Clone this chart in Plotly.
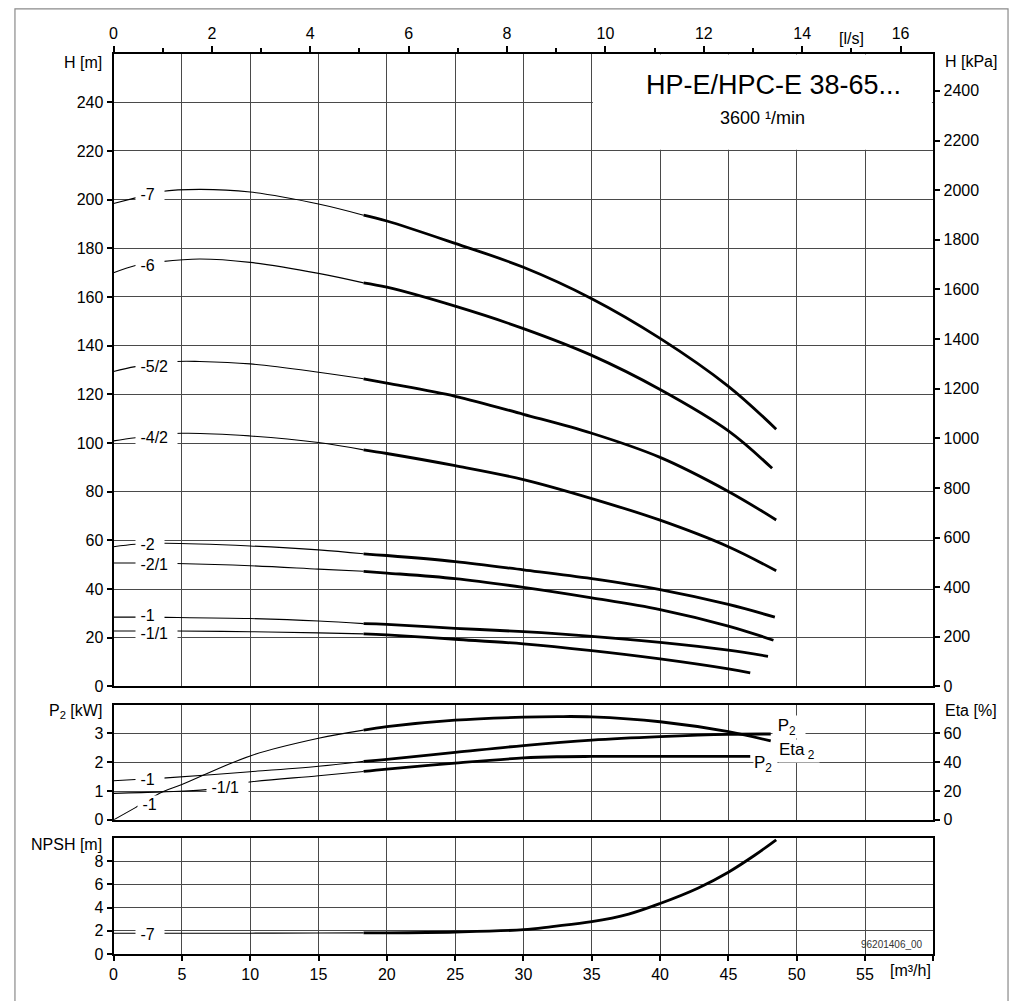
import plotly.graph_objects as go

W = 1014
FIG_H = 1001
FONT = "Liberation Sans, Arial, Helvetica, sans-serif"

# ---------------- data ----------------
# Head curves H [m] vs Q [m3/h]; thin part (outside working range) and thick part
head_names = ["-7", "-6", "-5/2", "-4/2", "-2", "-2/1", "-1", "-1/1"]
head_thin_q = [
    [0, 1.6, 3.5, 6.3, 10, 15, 18.3],
    [0, 1.6, 3.5, 6.3, 10, 15, 18.3],
    [0, 1.6, 4.6, 6.3, 10, 15, 18.3],
    [0, 1.6, 5, 10, 15, 18.3],
    [0, 1.6, 3.8, 10, 15, 18.3],
    [0, 1.6, 4.6, 10, 15, 18.3],
    [0, 1.6, 3.8, 10, 15, 18.3],
    [0, 1.6, 4.6, 10, 15, 18.3],
]
head_thin_h = [
    [198.4, 200.7, 203.3, 204.2, 203.1, 198.2, 193.6],
    [169.9, 172.9, 174.5, 175.6, 174.2, 169.7, 165.8],
    [129.4, 131.4, 133.5, 133.5, 132.5, 129.1, 126.4],
    [100.9, 102.2, 104.0, 102.9, 100.2, 97.2],
    [57.4, 58.4, 58.8, 57.7, 56.1, 54.5],
    [50.7, 50.7, 50.5, 49.6, 48.2, 47.3],
    [28.5, 28.5, 28.4, 27.9, 26.9, 25.8],
    [22.8, 22.8, 22.8, 22.5, 22.0, 21.6],
]
head_thick_q = [
    [18.3, 20, 25, 30, 35, 40, 45, 48.5],
    [18.3, 20, 25, 30, 35, 40, 45, 48.2],
    [18.3, 20, 25, 30, 35, 40, 45, 48.5],
    [18.3, 20, 25, 30, 35, 40, 45, 48.5],
    [18.3, 20, 25, 30, 35, 40, 45, 48.4],
    [18.3, 20, 25, 30, 35, 40, 45, 48.3],
    [18.3, 20, 25, 30, 35, 40, 45, 47.9],
    [18.3, 20, 25, 30, 35, 40, 45, 46.6],
]
head_thick_h = [
    [193.6, 191.2, 182.0, 172.2, 159.3, 143.0, 123.3, 105.7],
    [165.8, 164.0, 156.2, 147.0, 136.0, 122.0, 105.0, 89.6],
    [126.4, 124.6, 119.2, 111.8, 104.0, 94.1, 80.1, 68.4],
    [97.2, 95.7, 90.7, 85.0, 77.2, 68.3, 57.4, 47.5],
    [54.5, 53.8, 51.3, 47.9, 44.3, 39.8, 33.7, 28.5],
    [47.3, 46.6, 44.3, 40.7, 36.4, 31.6, 24.8, 19.0],
    [25.8, 25.5, 23.9, 22.5, 20.6, 18.1, 14.9, 12.4],
    [21.6, 21.2, 19.4, 17.5, 14.7, 11.3, 7.2, 5.6],
]
# label positions (left edge Q, H)
head_label_q = [1.58] * 8
head_label_h = [202.0, 172.9, 131.3, 102.3, 58.2, 50.3, 29.0, 21.6]

# Power P2 [kW]
p2_names = ["-1", "-1/1"]
p2_thin_q = [[0, 1.6, 3.6, 10, 15, 18.3], [0, 3.5, 6.8, 9.35, 15, 18.3]]
p2_thin_p = [[1.36, 1.40, 1.45, 1.67, 1.86, 2.03], [0.92, 0.97, 1.05, 1.28, 1.53, 1.68]]
p2_thick_q = [[18.3, 20, 25, 30, 35, 40, 45, 48.1], [18.3, 20, 25, 30, 32.5, 35, 40, 46.6]]
p2_thick_p = [[2.03, 2.10, 2.34, 2.58, 2.77, 2.89, 2.97, 2.98], [1.68, 1.76, 1.97, 2.15, 2.19, 2.20, 2.20, 2.20]]
p2_label_q = [1.58, 6.8]
p2_label_p = [1.41, 1.13]

# Efficiency Eta [%]
eta_name = "-1"
eta_thin_q = [0, 1.6, 3.6, 5, 10, 15, 18.3]
eta_thin_v = [0, 8.5, 19.5, 24.5, 44.4, 56.6, 62.3]
eta_thick_q = [18.3, 20, 25, 30, 32.5, 35, 40, 45, 48.1]
eta_thick_v = [62.3, 64.7, 69.2, 71.3, 71.7, 71.5, 68.1, 61.2, 54.8]
eta_label_q = 1.7
eta_label_v = 10.4

# NPSH [m]
npsh_name = "-7"
npsh_thin_q = [0, 5, 10, 15, 18.3]
npsh_thin_v = [1.8, 1.8, 1.8, 1.82, 1.83]
npsh_thick_q = [18.3, 20, 25, 30, 32.1, 35, 37.7, 40, 42.8, 45, 46.9, 48.5]
npsh_thick_v = [1.83, 1.83, 1.9, 2.1, 2.37, 2.79, 3.45, 4.36, 5.7, 7.06, 8.5, 9.85]

q_ticks = list(range(0, 61, 5))
q_ticktext = [str(v) for v in range(0, 56, 5)] + [""]
h_ticks = list(range(0, 241, 20))
kpa_ticks = list(range(0, 2401, 200))
p_ticks = [0, 1, 2, 3]
eta_ticks = [0, 20, 40, 60]
npsh_ticks = [0, 2, 4, 6, 8]

title = "HP-E/HPC-E 38-65..."
subtitle = "3600 \u00b9/min"
doc_id = "96201406_00"

# ---------------- layout helpers ----------------
def px_x(p):
    return p / W

def px_y(p):
    return (FIG_H - p) / FIG_H

X0, X1 = 110, 933
TOP = (54, 692.7)
MID = (711, 827.3)
BOT = (845.7, 962.7)
xdom = [px_x(X0), px_x(X1)]

def ydom(r):
    return [px_y(r[1]), px_y(r[0])]

THIN, THICK = 1.1, 2.8
GRID = "#4a4a4a"

fig = go.Figure()

def add_curve(q1, v1, q2, v2, xa, ya):
    fig.add_trace(go.Scatter(x=q1, y=v1, mode="lines", xaxis=xa, yaxis=ya,
                             line=dict(color="black", width=THIN, shape="spline", smoothing=1.0),
                             showlegend=False, hoverinfo="skip"))
    fig.add_trace(go.Scatter(x=q2, y=v2, mode="lines", xaxis=xa, yaxis=ya,
                             line=dict(color="black", width=THICK, shape="spline", smoothing=1.0),
                             showlegend=False, hoverinfo="skip"))

for i in range(len(head_names)):
    add_curve(head_thin_q[i], head_thin_h[i], head_thick_q[i], head_thick_h[i], "x", "y")
for i in range(len(p2_names)):
    add_curve(p2_thin_q[i], p2_thin_p[i], p2_thick_q[i], p2_thick_p[i], "x2", "y3")
add_curve(eta_thin_q, eta_thin_v, eta_thick_q, eta_thick_v, "x2", "y4")
add_curve(npsh_thin_q, npsh_thin_v, npsh_thick_q, npsh_thick_v, "x3", "y5")

# invisible carrier trace so the secondary scales (l/s on top, kPa on right) are drawn
fig.add_trace(go.Scatter(x=[0], y=[0], xaxis="x4", yaxis="y2", mode="markers",
                         marker=dict(opacity=0, size=1), showlegend=False, hoverinfo="skip"))

tickfont = dict(family=FONT, size=16, color="black")
axis_common = dict(showline=True, linecolor="black", linewidth=2, zeroline=False,
                   tickfont=tickfont, ticklen=5, tickwidth=1.5, tickcolor="black")

xbase = dict(domain=xdom, range=[0, 60], tickmode="array", tickvals=q_ticks,
             showgrid=True, gridcolor=GRID, gridwidth=1, mirror=True, **axis_common)

fig.update_layout(
    width=W, height=FIG_H, margin=dict(l=0, r=0, t=0, b=0),
    paper_bgcolor="white", plot_bgcolor="white",
    font=dict(family=FONT, size=16, color="black"),
    xaxis=dict(anchor="y", showticklabels=False, ticks="", **xbase),
    xaxis2=dict(anchor="y3", matches="x", showticklabels=False, ticks="", **xbase),
    xaxis3=dict(anchor="y5", matches="x", ticks="outside", ticktext=q_ticktext, **xbase),
    xaxis4=dict(overlaying="x", anchor="y", side="top", range=[0, 60 / 3.6],
                tickmode="linear", tick0=0, dtick=2, ticks="outside", ticklen=6,
                minor=dict(dtick=1, tick0=0, ticks="outside", ticklen=4, tickwidth=1.5,
                           tickcolor="black", showgrid=False),
                showgrid=False, showline=True, linecolor="black", linewidth=2,
                zeroline=False, tickfont=tickfont, tickwidth=1.5, tickcolor="black"),
    yaxis=dict(domain=ydom(TOP), anchor="x", range=[0, 260], tickmode="array", tickvals=h_ticks,
               ticks="outside", showgrid=True, gridcolor=GRID, gridwidth=1, mirror=True, **axis_common),
    yaxis2=dict(overlaying="y", anchor="x", side="right", range=[0, 260 * 9.81], tickmode="array",
                tickvals=kpa_ticks, ticks="outside", showgrid=False, **axis_common),
    yaxis3=dict(domain=ydom(MID), anchor="x2", range=[0, 4], tickmode="array", tickvals=p_ticks,
                ticks="outside", showgrid=True, gridcolor=GRID, gridwidth=1, mirror=True, **axis_common),
    yaxis4=dict(overlaying="y3", anchor="x2", side="right", range=[0, 80], tickmode="array",
                tickvals=eta_ticks, ticks="outside", showgrid=False, **axis_common),
    yaxis5=dict(domain=ydom(BOT), anchor="x3", range=[0, 10], tickmode="array", tickvals=npsh_ticks,
                ticks="outside", showgrid=True, gridcolor=GRID, gridwidth=1, mirror=True, **axis_common),
)

shapes = [
    # white box behind the title in the head panel
    dict(type="rect", xref="x", yref="y", x0=35.08, x1=59.9, y0=220.45, y1=259.6,
         fillcolor="white", line=dict(width=0), layer="above"),
    # outer frame
    dict(type="rect", xref="paper", yref="paper", x0=px_x(11), x1=px_x(1008), y0=-0.2, y1=px_y(9),
         fillcolor="rgba(0,0,0,0)", line=dict(color="#8a8a8a", width=1.2), layer="above"),
]
fig.update_layout(shapes=shapes)

NB = "\u00a0"
ann = []

def lab(text, x, y, xref, yref, size=16, xanchor="left", bg="white"):
    ann.append(dict(text=text, x=x, y=y, xref=xref, yref=yref, showarrow=False,
                    xanchor=xanchor, yanchor="middle", bgcolor=bg, borderpad=0,
                    font=dict(family=FONT, size=size, color="black")))

for i, n in enumerate(head_names):
    lab(NB + n + NB + NB, head_label_q[i], head_label_h[i], "x", "y")
for i, n in enumerate(p2_names):
    lab(NB + n + NB + NB, p2_label_q[i], p2_label_p[i], "x2", "y3")
lab(NB + eta_name + NB + NB, eta_label_q, eta_label_v, "x2", "y4")
lab(NB + npsh_name + NB + NB, 1.58, 1.7, "x3", "y5")

# curve end labels in power/efficiency panel
lab("P<sub>2</sub>" + NB, 46.8, 1.93, "x2", "y3", size=17)
lab(NB + "P<sub>2</sub>" + NB + NB, 48.2, 3.22, "x2", "y3", size=17)
lab("Eta<sub>" + NB + "2</sub>" + NB, 48.6, 2.38, "x2", "y3", size=17)

def plain(text, x, y, xanchor, size=16, color="black"):
    ann.append(dict(text=text, x=x, y=y, xref="paper", yref="paper", showarrow=False,
                    xanchor=xanchor, yanchor="middle",
                    font=dict(family=FONT, size=size, color=color)))

plain("H [m]", px_x(100), px_y(63), "right")
plain("H [kPa]", px_x(943), px_y(62), "left")
plain("P<sub>2</sub> [kW]", px_x(100), px_y(718), "right")
plain("Eta [%]", px_x(943), px_y(717.3), "left")
plain("NPSH [m]", px_x(100), px_y(851.7), "right")
plain("[m\u00b3/h]", px_x(933), px_y(979), "right")
plain("[l/s]", px_x(851), px_y(39.3), "center")
plain(title, px_x(903), px_y(86), "right", size=27)
plain(subtitle, px_x(762), px_y(119), "center", size=18)
plain(doc_id, px_x(925), px_y(953.3), "right", size=10, color="#333333")

fig.update_layout(annotations=ann)
fig.write_html("out.html")
